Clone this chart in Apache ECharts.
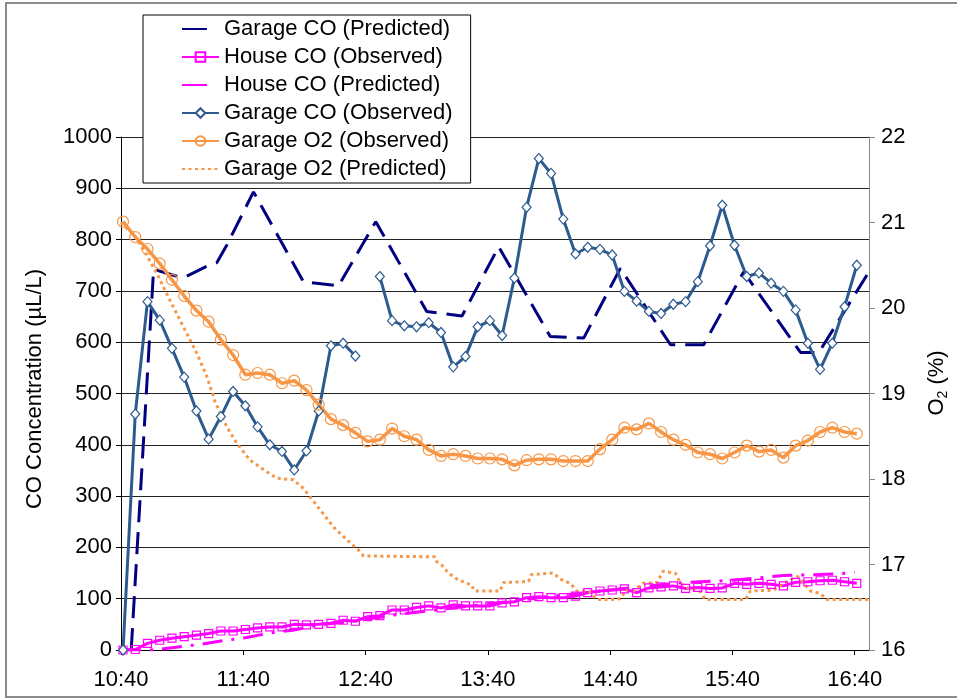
<!DOCTYPE html>
<html>
<head>
<meta charset="utf-8">
<script src="https://cdn.jsdelivr.net/npm/echarts@6/dist/echarts.min.js"></script>
<style>
html,body{margin:0;padding:0;background:#fff;}
#c{width:957px;height:700px;}
</style>
</head>
<body>
<div id="c"></div>
<script>
// ---- Data (minutes after 10:40) ----
const xTickValues = [0, 60, 120, 180, 240, 300, 360];
const xTickLabels = ['10:40', '11:40', '12:40', '13:40', '14:40', '15:40', '16:40'];

const obsTimes = [1,7,13,19,25,31,37,43,49,55,61,67,73,79,85,91,97,103,109,115,121,127,133,139,145,151,157,163,169,175,181,187,193,199,205,211,217,223,229,235,241,247,253,259,265,271,277,283,289,295,301,307,313,319,325,331,337,343,349,355,361];

const garageCOObserved = [0,460,679,643,588,532,466,411,455,504,476,435,400,387,351,388,466,593,598,573,null,728,642,632,630,638,619,552,572,630,642,613,725,863,958,929,840,772,785,781,770,699,680,660,656,674,679,718,788,867,789,728,735,715,699,663,598,547,598,669,750];

const houseCOObserved = [0,1,13,19,23,26,29,32,37,37,40,43,45,45,50,49,50,52,58,56,65,67,78,78,83,86,82,88,86,86,86,92,94,102,104,102,102,105,112,115,117,119,112,121,123,125,120,122,120,121,130,128,130,128,125,132,133,135,136,133,130];

const garageO2Observed = [21.01,20.83,20.69,20.52,20.33,20.14,19.97,19.84,19.63,19.45,19.22,19.24,19.22,19.12,19.15,19.04,18.87,18.70,18.63,18.54,18.44,18.46,18.59,18.50,18.46,18.34,18.27,18.29,18.27,18.24,18.24,18.23,18.16,18.22,18.23,18.23,18.21,18.21,18.21,18.35,18.46,18.60,18.58,18.65,18.55,18.46,18.40,18.31,18.29,18.24,18.31,18.39,18.32,18.34,18.25,18.39,18.45,18.55,18.60,18.55,18.53];

const garageCOPredicted = [[5,0],[16,742],[27,729],[31,726],[42,748],[47,755],[52,790],[65,893],[89.5,718],[106.7,710],[125,835],[150,660],[167.3,651],[185.3,786],[210.6,611],[227,608],[245,744],[269.6,595],[285.9,595],[305.5,737],[333.4,580],[342.4,580],[366,731]];

const houseCOPredicted = [[0,0],[14,0],[20,2],[28,6],[39,11],[50,18],[61,24],[73,33],[85,39],[97,49],[105,52],[117,58],[137,70],[150,76],[180,90],[210,104],[240,117],[275,131],[300,136],[325,145],[350,148],[360,151]];

const garageO2Predicted = [[0,21.0],[7.2,20.83],[12.6,20.62],[18.3,20.37],[24,20.09],[30.6,19.78],[37.2,19.47],[42.1,19.2],[46.2,18.9],[51.9,18.61],[56.8,18.42],[63.3,18.22],[69.9,18.11],[76.4,18.01],[84.6,17.99],[89.5,17.89],[92.8,17.79],[97.7,17.64],[104.2,17.44],[110.8,17.29],[116.5,17.17],[119,17.1],[154,17.09],[155,17.03],[157.5,16.99],[160.7,16.9],[164.8,16.83],[169.7,16.78],[172.2,16.76],[173,16.7],[174,16.69],[186,16.69],[187.7,16.79],[200,16.8],[201.2,16.88],[201.8,16.9],[212.2,16.9],[215.5,16.83],[220.5,16.78],[223.7,16.69],[230,16.68],[233.5,16.59],[239.3,16.59],[245,16.6],[248,16.7],[251,16.68],[256,16.78],[263,16.79],[266,16.92],[272,16.9],[274.5,16.78],[278.5,16.72],[284.3,16.68],[286.7,16.59],[306.4,16.59],[308.8,16.69],[320.3,16.7],[325.2,16.78],[330.1,16.84],[332,16.86],[338.3,16.69],[343.2,16.66],[346.5,16.59],[367,16.59]];

const seriesNames = ['Garage CO (Predicted)','House CO (Observed)','House CO (Predicted)','Garage CO (Observed)','Garage O2 (Observed)','Garage O2 (Predicted)'];

// ---- Chart ----
const FONT = '"Liberation Sans", Arial, sans-serif';
const C_GCO_PRED = '#000080';
const C_GCO_OBS = '#2E5B8E';
const C_HOUSE = '#FF00FF';
const C_O2 = '#F79646';

function pairs(xs, ys) { return xs.map((x, i) => [x, ys[i]]); }
function fmtTime(v) {
  const idx = xTickValues.indexOf(v);
  return idx >= 0 ? xTickLabels[idx] : '';
}

const chart = echarts.init(document.getElementById('c'), null, {renderer: 'canvas'});

const option = {
  animation: false,
  backgroundColor: '#fff',
  textStyle: {fontFamily: FONT},
  grid: {left: 121, right: 88, top: 137, bottom: 50, containLabel: false},
  legend: {
    orient: 'vertical',
    left: 143, top: 15,
    backgroundColor: '#fff',
    borderColor: '#000', borderWidth: 1, borderRadius: 0,
    padding: [3, 18, 3, 38],
    itemGap: 6,
    itemWidth: 37, itemHeight: 12,
    textStyle: {fontSize: 22, color: '#000', fontFamily: FONT},
    selectedMode: false,
    data: [
      {name: seriesNames[0], lineStyle: {type: [25, 30]}, itemStyle: {opacity: 0}},
      {name: seriesNames[1]},
      {name: seriesNames[2], lineStyle: {type: [25, 30]}, itemStyle: {opacity: 0}},
      {name: seriesNames[3]},
      {name: seriesNames[4]},
      {name: seriesNames[5], itemStyle: {opacity: 0}}
    ]
  },
  xAxis: {
    type: 'value', min: 0, max: 367, interval: 60,
    axisLine: {show: true, onZero: false, lineStyle: {color: '#000', width: 1}},
    axisTick: {show: true, length: 5, lineStyle: {color: '#000'}, customValues: xTickValues},
    axisLabel: {fontSize: 22, color: '#000', margin: 19, fontFamily: FONT, customValues: xTickValues, formatter: fmtTime},
    splitLine: {show: false}
  },
  yAxis: [
    {
      type: 'value', min: 0, max: 1000, interval: 100,
      axisLine: {show: true, lineStyle: {color: '#000', width: 1}},
      axisTick: {show: true, length: 5, lineStyle: {color: '#000'}},
      axisLabel: {fontSize: 22, color: '#000', margin: 9, fontFamily: FONT, formatter: function (v) { return String(v); }},
      splitLine: {show: true, lineStyle: {color: '#222', width: 1}}
    },
    {
      type: 'value', position: 'right', min: 16, max: 22, interval: 1,
      axisLine: {show: true, lineStyle: {color: '#888', width: 1}},
      axisTick: {show: true, length: 6, lineStyle: {color: '#888'}},
      axisLabel: {fontSize: 22, color: '#000', margin: 12, fontFamily: FONT, formatter: function (v) { return String(v); }},
      splitLine: {show: false}
    }
  ],
  series: [
    {
      name: seriesNames[0], type: 'line', yAxisIndex: 0,
      data: garageCOPredicted, showSymbol: false, symbol: 'none',
      color: C_GCO_PRED,
      lineStyle: {color: C_GCO_PRED, width: 3, type: [22, 10]},
      z: 2
    },
    {
      name: seriesNames[1], type: 'line', yAxisIndex: 0,
      data: pairs(obsTimes, houseCOObserved),
      symbol: 'rect', symbolSize: [8, 8], showSymbol: true,
      color: C_HOUSE,
      itemStyle: {color: 'rgba(255,255,255,0)', borderColor: C_HOUSE, borderWidth: 1.2},
      lineStyle: {color: C_HOUSE, width: 3},
      z: 3
    },
    {
      name: seriesNames[2], type: 'line', yAxisIndex: 0,
      data: houseCOPredicted, showSymbol: false, symbol: 'none',
      color: C_HOUSE,
      lineStyle: {color: C_HOUSE, width: 3, type: [20, 9, 3, 9]},
      z: 3
    },
    {
      name: seriesNames[3], type: 'line', yAxisIndex: 0,
      data: pairs(obsTimes, garageCOObserved), connectNulls: false,
      symbol: 'diamond', symbolSize: [9, 10], showSymbol: true,
      color: C_GCO_OBS,
      itemStyle: {color: '#fff', borderColor: C_GCO_OBS, borderWidth: 1.2},
      lineStyle: {color: C_GCO_OBS, width: 3},
      z: 4
    },
    {
      name: seriesNames[4], type: 'line', yAxisIndex: 1,
      data: pairs(obsTimes, garageO2Observed),
      symbol: 'circle', symbolSize: 11, showSymbol: true,
      color: C_O2,
      itemStyle: {color: 'rgba(255,255,255,0)', borderColor: C_O2, borderWidth: 1.2},
      lineStyle: {color: C_O2, width: 3.5},
      z: 4
    },
    {
      name: seriesNames[5], type: 'line', yAxisIndex: 1,
      data: garageO2Predicted, showSymbol: false, symbol: 'none',
      color: C_O2,
      lineStyle: {color: C_O2, width: 3, type: [3, 3.5]},
      z: 3
    }
  ],
  graphic: [
    {
      type: 'rect', silent: true, z: 100,
      shape: {x: 6, y: 3, width: 960, height: 694},
      style: {fill: 'none', stroke: '#666', lineWidth: 1.5}
    },
    {
      type: 'text', silent: true, z: 100,
      x: 35, y: 389, rotation: Math.PI / 2,
      style: {text: 'CO Concentration (\u00b5L/L)', font: '22px ' + FONT, fill: '#000', align: 'center', verticalAlign: 'middle'}
    },
    {
      type: 'text', silent: true, z: 100,
      x: 937, y: 383, rotation: Math.PI / 2,
      style: {
        text: '{a|O}{s|2}{a| (%)}',
        align: 'center', verticalAlign: 'middle',
        rich: {
          a: {fontSize: 22, fontFamily: FONT, fill: '#000', color: '#000'},
          s: {fontSize: 14, fontFamily: FONT, fill: '#000', color: '#000', padding: [12, 0, 0, 0]}
        }
      }
    }
  ]
};
chart.setOption(option);
</script>
</body>
</html>
